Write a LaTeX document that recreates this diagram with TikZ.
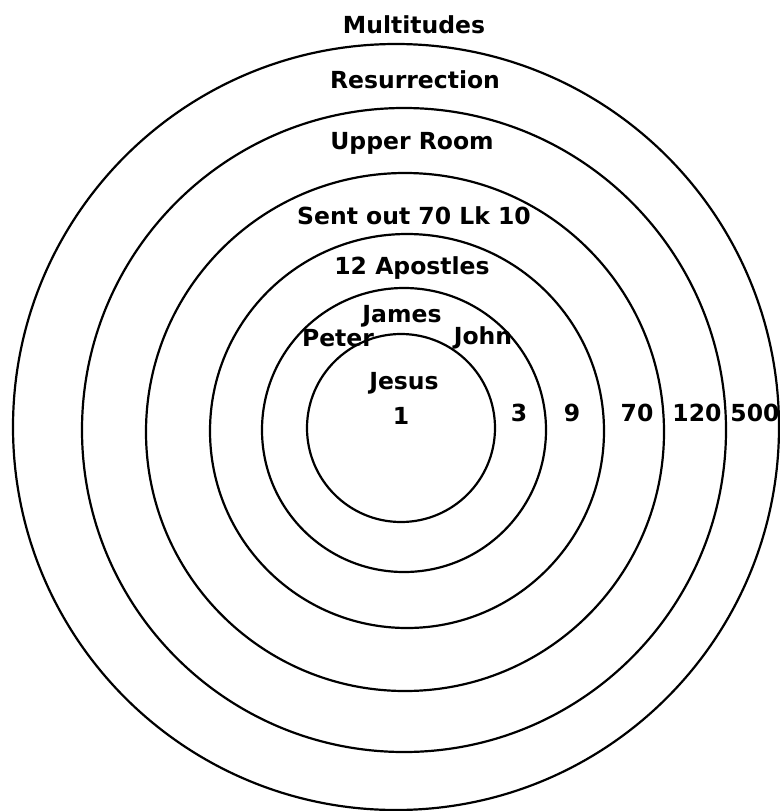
\documentclass[tikz,border=0pt]{standalone}
\usepackage{fontspec}
\setmainfont{DejaVu Sans}
\usepackage{tikz}
\usetikzlibrary{positioning}

\begin{document}
\begin{tikzpicture}[x=1pt,y=-1pt,
  ring/.style={draw=black, line width=2.2pt},
  lbl/.style={inner sep=0pt, font=\fontsize{23.5}{27}\selectfont\bfseries}]
  \path[use as bounding box, fill=white] (0,0) rectangle (779,811);

  % rings, inside out
  \draw[ring] (401,428) circle (94);
  \draw[ring] (404,430) circle (142);
  \draw[ring] (407,431) circle (197);
  \draw[ring] (405,432) circle (259);
  \draw[ring] (404,430) circle (322);
  \draw[ring] (396,427) circle (383);

  % group names
  \node[lbl] (multitudes) at (414,25) {Multitudes};
  \node[lbl] (resurrection) at (415,80) {Resurrection};
  \node[lbl] (upperroom) at (412,143) {Upper Room};
  \node[lbl] (sentout) at (414,216) {Sent out 70 Lk 10};
  \node[lbl] (apostles) at (412,268) {12 Apostles};
  \node[lbl] (james) at (402,316) {James};
  \node[lbl] (peter) at (338,338) {Peter};
  \node[lbl] (john) at (483,338) {John};
  \node[lbl] (jesus) at (404,383) {Jesus};

  % counts
  \node[lbl] (n1) at (401,416) {1};
  \node[lbl] (n3) at (519,413) {3};
  \node[lbl] (n9) at (572,413) {9};
  \node[lbl] (n70) at (637,413) {70};
  \node[lbl] (n120) at (697,413) {120};
  \node[lbl] (n500) at (755,413) {500};
\end{tikzpicture}
\end{document}
